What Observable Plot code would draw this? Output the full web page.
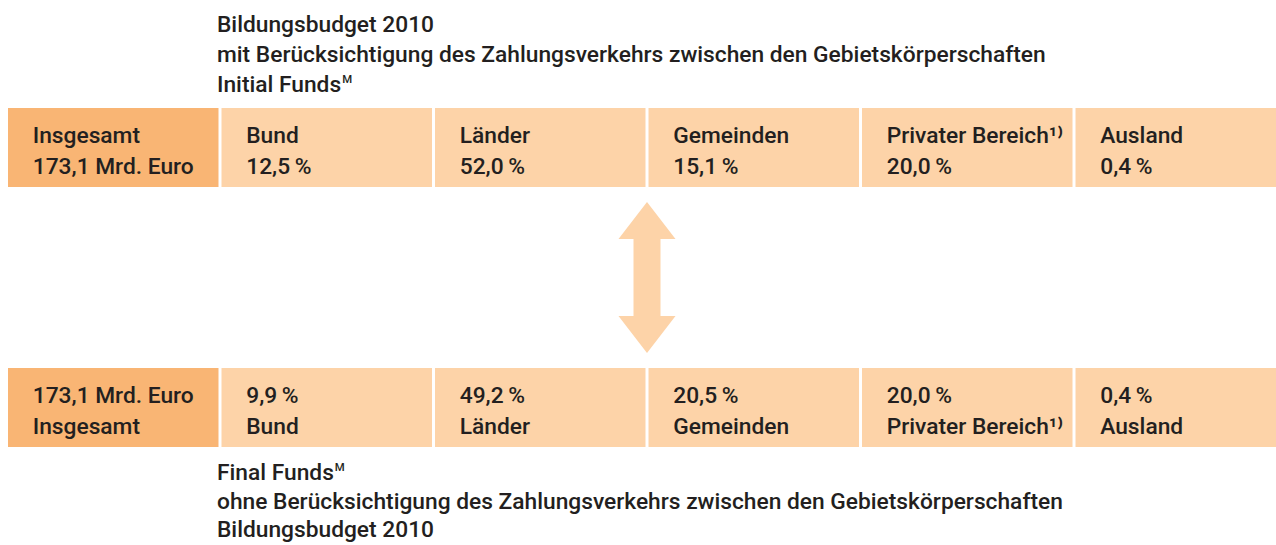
<!DOCTYPE html>
<html>
<head>
<meta charset="utf-8">
<script src="https://cdn.jsdelivr.net/npm/d3@7"></script>
<script src="https://cdn.jsdelivr.net/npm/@observablehq/plot@0.6"></script>
<style>
  html, body { margin: 0; padding: 0; background: #ffffff; }
  body { width: 1276px; height: 545px; overflow: hidden; font-family: Roboto, "Noto Sans", sans-serif; color: #231f20; }
  .titles { box-sizing: border-box; padding-left: 217px; font-size: 22.75px; font-weight: 500; white-space: nowrap; }
  .titles div { height: 30px; line-height: 30px; }
  #top { padding-top: 10px; height: 101px; }
  #bottom { padding-top: 4px; height: 90px; }
  #bottom div { height: 28.5px; line-height: 28.5px; }
  .titles sup { font-size: 0.5em; line-height: 0; vertical-align: 0.8em; margin-left: 1px; }
  #chart svg { display: block; }
</style>
</head>
<body>
<div id="top" class="titles"></div>
<div id="chart"></div>
<div id="bottom" class="titles"></div>
<script>
// ---- data ----
const categories = ["Insgesamt", "Bund", "Länder", "Gemeinden", "Privater Bereich¹⁾", "Ausland"];
const rows = ["Initial Funds", "Final Funds"];
const totalBillion = 173.1;                    // Mrd. Euro, same in both rows
const initialShares = [12.5, 52.0, 15.1, 20.0, 0.4]; // Bund, Länder, Gemeinden, Privater Bereich, Ausland
const finalShares   = [9.9, 49.2, 20.5, 20.0, 0.4];
const topTitles = ["Bildungsbudget 2010", "mit Berücksichtigung des Zahlungsverkehrs zwischen den Gebietskörperschaften", "Initial Funds"];
const bottomTitles = ["Final Funds", "ohne Berücksichtigung des Zahlungsverkehrs zwischen den Gebietskörperschaften", "Bildungsbudget 2010"];
const superscriptTitle = "Funds";

// ---- helpers ----
const fmt = v => v.toFixed(1).replace(".", ",");
const totalLabel = fmt(totalBillion) + " Mrd. Euro";
const pct = v => fmt(v) + "\u2009%";

function fillTitles(el, lines) {
  for (const line of lines) {
    const d = document.createElement("div");
    d.textContent = line;
    if (line.endsWith(superscriptTitle)) {
      const s = document.createElement("sup");
      s.textContent = "M";
      d.appendChild(s);
    }
    el.appendChild(d);
  }
}
fillTitles(document.getElementById("top"), topTitles);
fillTitles(document.getElementById("bottom"), bottomTitles);

// table of cells
const cells = [];
rows.forEach((row, r) => {
  const shares = r === 0 ? initialShares : finalShares;
  categories.forEach((cat, i) => {
    const value = i === 0 ? totalLabel : pct(shares[i - 1]);
    cells.push({
      row, category: cat, total: i === 0,
      first: r === 0 ? cat : value,
      second: r === 0 ? value : cat
    });
  });
});

const darkFill = "#f9b574";
const lightFill = "#fdd3a8";
const ink = "#231f20";

const W = 1276, H = 354;
const step = 213;
const bandH = 79;
const yRange = [7, 346];

function arrowMark(index, scales) {
  const x = scales.x, y = scales.y;
  const bwx = typeof x.bandwidth === "function" ? x.bandwidth() : 210;
  const bwy = typeof y.bandwidth === "function" ? y.bandwidth() : bandH;
  const cx = (x(categories[2]) + bwx + x(categories[3])) / 2;
  const ty = y(rows[0]) + bwy + 15;
  const by = y(rows[1]) - 15;
  const hw = 28.5, sw = 13.5, hl = 37;
  const pts = [
    [cx, ty], [cx + hw, ty + hl], [cx + sw, ty + hl], [cx + sw, by - hl], [cx + hw, by - hl],
    [cx, by], [cx - hw, by - hl], [cx - sw, by - hl], [cx - sw, ty + hl], [cx - hw, ty + hl]
  ];
  const ns = "http://www.w3.org/2000/svg";
  const g = document.createElementNS(ns, "g");
  const p = document.createElementNS(ns, "path");
  p.setAttribute("d", "M" + pts.map(q => q.join(",")).join("L") + "Z");
  p.setAttribute("fill", lightFill);
  g.appendChild(p);
  return g;
}

const textOpts = {
  x: "category", y: "row", textAnchor: "start", lineAnchor: "bottom",
  dx: 24 - 105, fontSize: 22.75, fontWeight: 500, fill: ink,
  fontFamily: "Roboto, 'Noto Sans', sans-serif"
};

const chart = Plot.plot({
  width: W, height: H,
  marginTop: 0, marginBottom: 0, marginLeft: 0, marginRight: 0,
  style: { background: "#ffffff", fontFamily: "Roboto, 'Noto Sans', sans-serif", overflow: "hidden" },
  x: { type: "band", domain: categories, range: [8, 8 + 6 * step], paddingInner: 3 / step, paddingOuter: 0, round: false, axis: null },
  y: { type: "band", domain: rows, range: yRange, paddingInner: 1 - bandH / (yRange[1] - yRange[0] - bandH), paddingOuter: 0, round: false, axis: null },
  marks: [
    Plot.cell(cells.filter(d => d.total), { x: "category", y: "row", fill: darkFill, inset: 0 }),
    Plot.cell(cells.filter(d => !d.total), { x: "category", y: "row", fill: lightFill, inset: 0 }),
    Plot.text(cells, { ...textOpts, text: "first", dy: -5 }),
    Plot.text(cells, { ...textOpts, text: "second", dy: 25.5 }),
    arrowMark
  ]
});
document.getElementById("chart").appendChild(chart);
</script>
</body>
</html>
